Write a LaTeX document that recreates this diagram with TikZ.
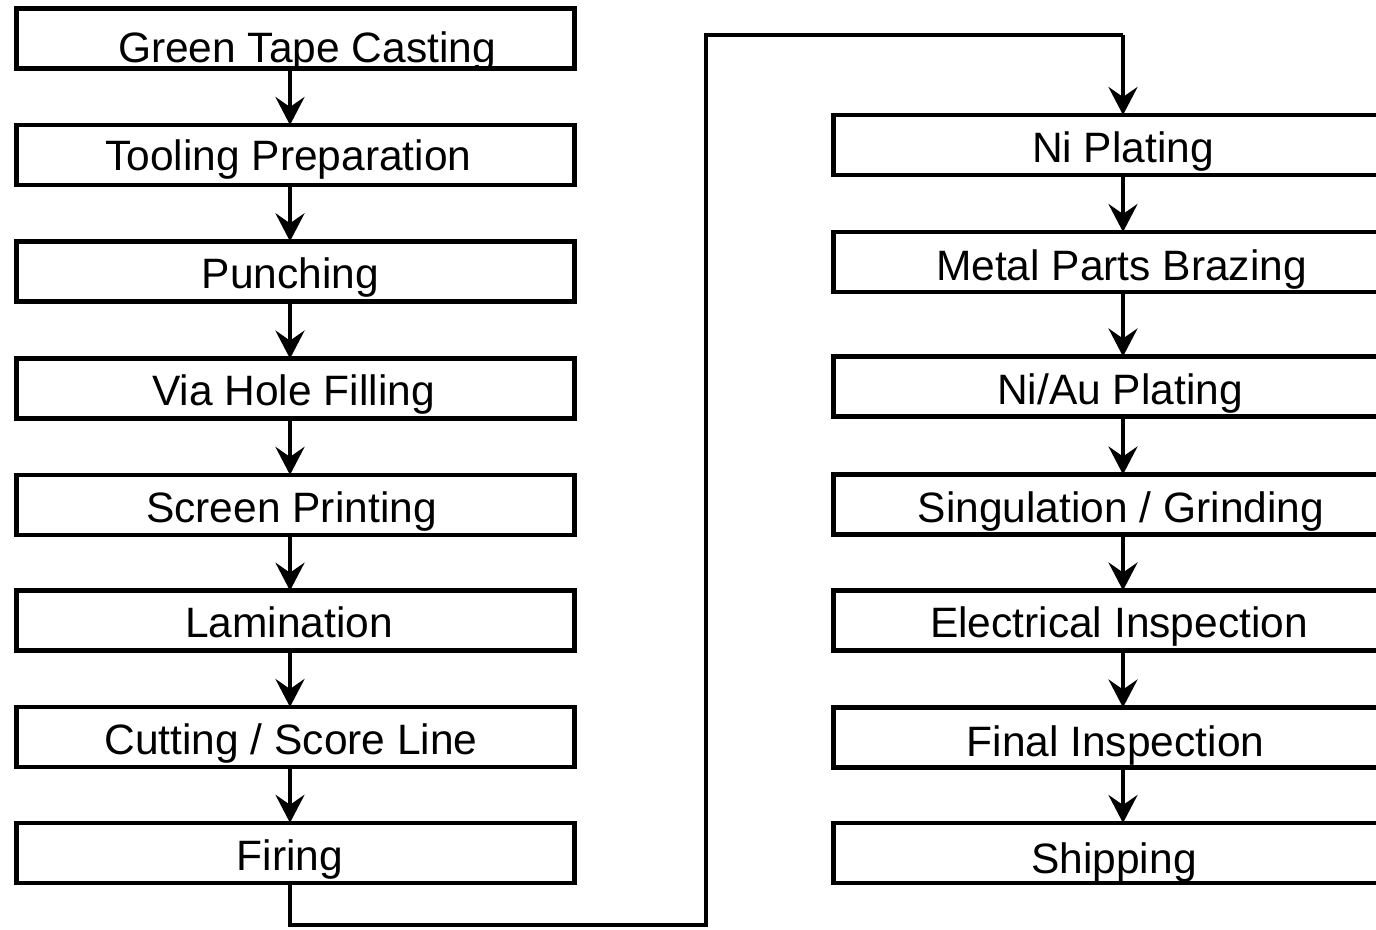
\documentclass[tikz,border=0pt]{standalone}
\usepackage{fontspec}
\setmainfont{Liberation Sans}
\usetikzlibrary{arrows.meta}

\tikzset{
  stepbox/.style={draw, line width=4.5pt, inner sep=0pt, outer sep=0pt,
    minimum height=60pt},
  leftbox/.style={stepbox, minimum width=558pt},
  rightbox/.style={stepbox, minimum width=557pt},
  lbl/.style={inner sep=0pt, outer sep=0pt, text height=30.7pt, text depth=0pt,
    font=\fontsize{42.5}{50}\selectfont},
  flow/.style={line width=4pt, -{Stealth[length=28pt, width=29pt, inset=10pt]}},
  route/.style={line width=4pt}
}

\begin{document}
\begin{tikzpicture}[x=1pt, y=-1pt]
  \useasboundingbox (0,0) rectangle (1376,929);

  % left column: boxes
  \node[leftbox] (L1) at (295.5, 38.7) {};
  \node[leftbox] (L2) at (295.5,155.0) {};
  \node[leftbox] (L3) at (295.5,271.3) {};
  \node[leftbox] (L4) at (295.5,388.6) {};
  \node[leftbox] (L5) at (295.5,504.9) {};
  \node[leftbox] (L6) at (295.5,620.7) {};
  \node[leftbox] (L7) at (295.5,737.0) {};
  \node[leftbox] (L8) at (295.5,852.8) {};

  % right column: boxes (running off the right edge)
  \node[rightbox] (R1) at (1112,145.0) {};
  \node[rightbox] (R2) at (1112,262.0) {};
  \node[rightbox] (R3) at (1112,386.5) {};
  \node[rightbox] (R4) at (1112,504.5) {};
  \node[rightbox] (R5) at (1112,620.5) {};
  \node[rightbox] (R6) at (1112,737.5) {};
  \node[rightbox] (R7) at (1112,853.0) {};

  % arrow columns
  \coordinate (lx) at (290,0);
  \coordinate (rx) at (1123,0);

  % left column arrows
  \foreach \a/\b in {L1/L2,L2/L3,L3/L4,L4/L5,L5/L6,L6/L7,L7/L8}
    \draw[flow] (\a.south -| lx) -- (\b.north -| lx);

  % right column arrows
  \foreach \a/\b in {R1/R2,R2/R3,R3/R4,R4/R5,R5/R6,R6/R7}
    \draw[flow] (\a.south -| rx) -- (\b.north -| rx);

  % routing from the bottom of the left column to the top of the right one
  \coordinate (c1) at (290,925);
  \coordinate (c2) at (706,925);
  \coordinate (c3) at (706,34.5);
  \coordinate (c4) at (1123,34.5);
  \draw[route] (L8.south -| lx) -- (c1) -- (c2) -- (c3) -- (c4);
  \draw[flow] (c4) -- (R1.north -| rx);

  % left column labels
  \node[lbl] (t1) at (307, 47)   {Green Tape Casting};
  \node[lbl] (t2) at (288.5,155) {Tooling Preparation};
  \node[lbl] (t3) at (290.5,273) {Punching};
  \node[lbl] (t4) at (293.5,390) {Via Hole Filling};
  \node[lbl] (t5) at (291.5,507) {Screen Printing};
  \node[lbl] (t6) at (289,  622) {Lamination};
  \node[lbl] (t7) at (291,  739) {Cutting / Score Line};
  \node[lbl] (t8) at (290,  855) {Firing};

  % right column labels
  \node[lbl] (u1) at (1123,  147) {Ni Plating};
  \node[lbl] (u2) at (1121.5,265) {Metal Parts Brazing};
  \node[lbl] (u3) at (1120,  389) {Ni/Au Plating};
  \node[lbl] (u4) at (1121,  507) {Singulation / Grinding};
  \node[lbl] (u5) at (1119,  622) {Electrical Inspection};
  \node[lbl] (u6) at (1115.5,741) {Final Inspection};
  \node[lbl] (u7) at (1114,  858) {Shipping};
\end{tikzpicture}
\end{document}
